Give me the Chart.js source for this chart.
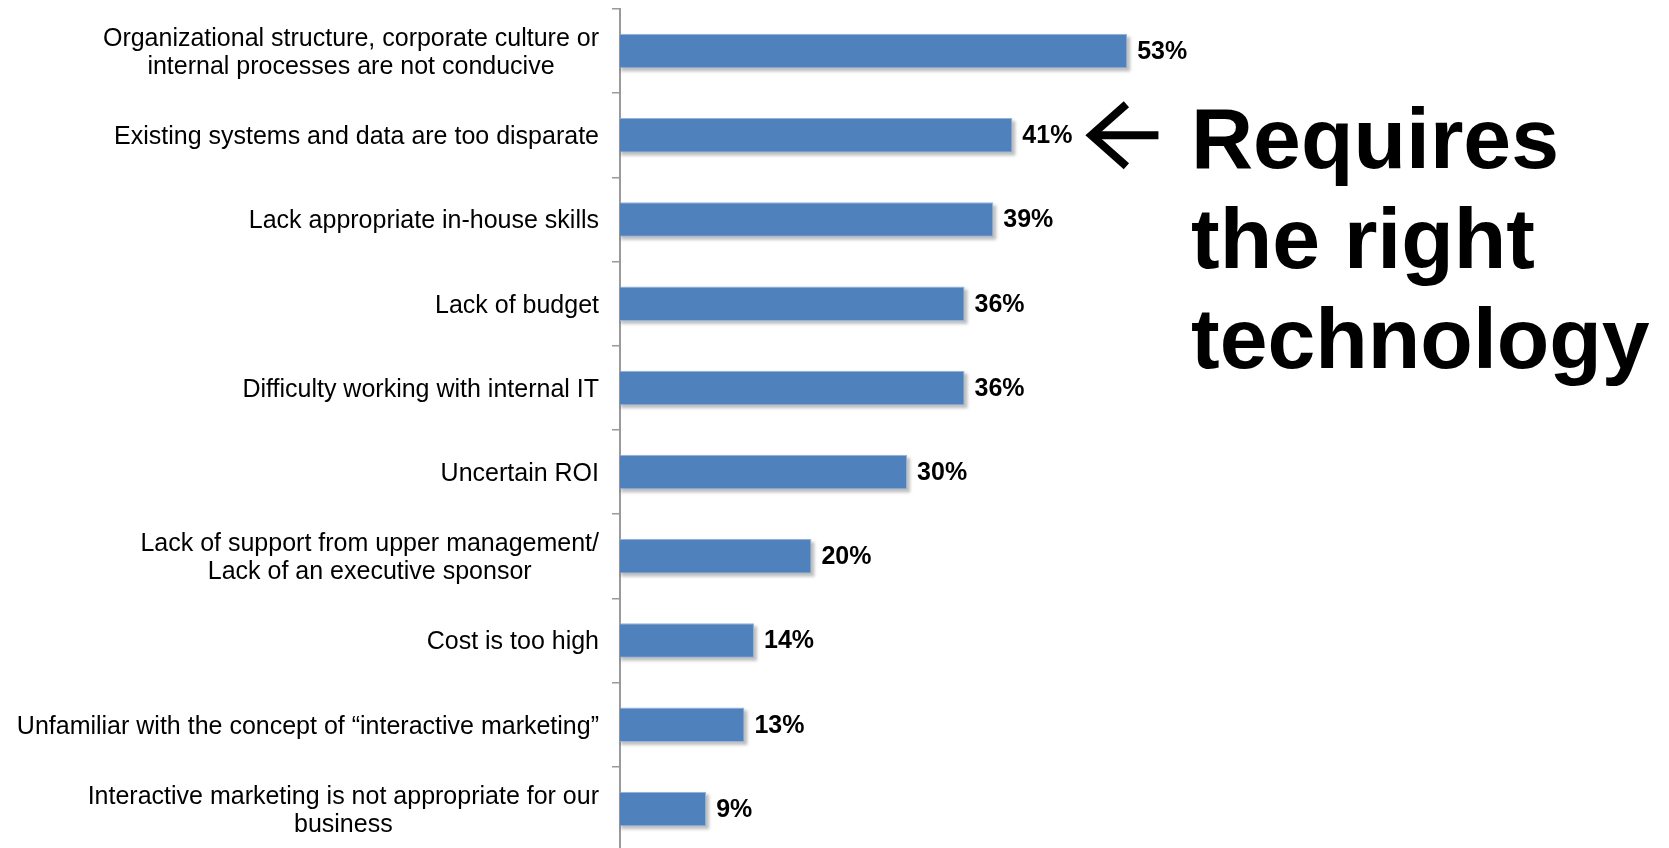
<!DOCTYPE html>
<html>
<head>
<meta charset="utf-8">
<script src="https://cdn.jsdelivr.net/npm/chart.js@4.4.1/dist/chart.umd.min.js"></script>
<style>
  html, body { margin: 0; padding: 0; background: #fff; overflow: hidden; }
  #wrap { position: relative; width: 1669px; height: 848px; overflow: hidden; }
  #chart { position: absolute; left: 0; top: 0; }
  #note {
    position: absolute; left: 1191px; top: 88px;
    font: bold 86px/100px 'Liberation Sans', Arial, sans-serif;
    color: #000; white-space: nowrap;
  }
</style>
</head>
<body>
<div id="wrap">
  <canvas id="chart" width="1669" height="860"></canvas>
  <div id="note">Requires<br>the right<br>technology</div>
</div>
<script>
const categories = [
    ['Organizational structure, corporate culture or', 'internal processes are not conducive'],
    'Existing systems and data are too disparate',
    'Lack appropriate in-house skills',
    'Lack of budget',
    'Difficulty working with internal IT',
    'Uncertain ROI',
    ['Lack of support from upper management/', 'Lack of an executive sponsor'],
    'Cost is too high',
    'Unfamiliar with the concept of \u201cinteractive marketing\u201d',
    ['Interactive marketing is not appropriate for our', 'business']
];
const values = [53, 41, 39, 36, 36, 30, 20, 14, 13, 9];
const valueLabels = values.map(v => v + '%');
const highlightIndex = 1; // bar the arrow points at

const labelFont = '25px "Liberation Sans", Arial, sans-serif';
const valueFont = 'bold 25px "Liberation Sans", Arial, sans-serif';
const labelLineHeight = 27.5;

// soft grey shadow under each bar
const barShadow = {
    id: 'barShadow',
    beforeDatasetsDraw(chart) {
        const ctx = chart.ctx;
        ctx.save();
        ctx.fillStyle = 'rgba(0, 0, 0, 0.25)';
        ctx.filter = 'blur(1.5px)';
        chart.getDatasetMeta(0).data.forEach(bar => {
            const p = bar.getProps(['x', 'y', 'base', 'height'], true);
            ctx.fillRect(p.base + 1, p.y - p.height / 2 + 3, p.x - p.base + 2, p.height);
        });
        ctx.restore();
    }
};

// category labels, right aligned to the axis, multi-line blocks centred
const categoryLabels = {
    id: 'categoryLabels',
    afterDraw(chart) {
        const ctx = chart.ctx;
        const yScale = chart.scales.y;
        const right = chart.chartArea.left - 21;
        ctx.save();
        ctx.font = labelFont;
        ctx.fillStyle = '#000';
        ctx.textAlign = 'center';
        ctx.textBaseline = 'middle';
        categories.forEach((label, i) => {
            const lines = Array.isArray(label) ? label : [label];
            const w = Math.max(...lines.map(l => ctx.measureText(l).width));
            const cx = right - w / 2;
            const y0 = yScale.getPixelForValue(i) + 2 - (lines.length - 1) * labelLineHeight / 2;
            lines.forEach((l, j) => ctx.fillText(l, cx, y0 + j * labelLineHeight));
        });
        ctx.restore();
    }
};

// percentage at the end of each bar, plus the arrow next to the highlighted one
const valueLabelPlugin = {
    id: 'valueLabelPlugin',
    afterDatasetsDraw(chart) {
        const ctx = chart.ctx;
        const bars = chart.getDatasetMeta(0).data;
        ctx.save();
        ctx.font = valueFont;
        ctx.fillStyle = '#000';
        ctx.textAlign = 'left';
        ctx.textBaseline = 'middle';
        bars.forEach((bar, i) => {
            ctx.fillText(valueLabels[i], bar.x + 10, bar.y + 1);
        });

        const hb = bars[highlightIndex];
        const tip = hb.x + 10 + ctx.measureText(valueLabels[highlightIndex]).width + 16;
        const cy = hb.y;
        ctx.strokeStyle = '#000';
        ctx.lineWidth = 8;
        ctx.lineJoin = 'miter';
        ctx.beginPath();
        ctx.moveTo(tip + 38, cy - 31);
        ctx.lineTo(tip + 3, cy);
        ctx.lineTo(tip + 38, cy + 31);
        ctx.stroke();
        ctx.beginPath();
        ctx.moveTo(tip + 5, cy);
        ctx.lineTo(tip + 70, cy);
        ctx.stroke();
        ctx.restore();
    }
};

new Chart(document.getElementById('chart'), {
    type: 'bar',
    data: {
        labels: categories,
        datasets: [{
            data: values,
            backgroundColor: '#4F81BD',
            borderColor: '#93b3dc',
            borderWidth: 1,
            barPercentage: 0.41,
            categoryPercentage: 1
        }]
    },
    options: {
        indexAxis: 'y',
        responsive: false,
        animation: false,
        layout: {
            padding: { left: 0, top: 9, right: 92, bottom: 9 }
        },
        plugins: {
            legend: { display: false },
            tooltip: { enabled: false }
        },
        scales: {
            x: {
                display: false,
                min: 0,
                max: 100
            },
            y: {
                afterFit(scale) { scale.width = 620; },
                ticks: { display: false },
                grid: {
                    drawOnChartArea: false,
                    tickLength: 8,
                    color: '#9a9a9a',
                    lineWidth: 1.5
                },
                border: { color: '#9a9a9a', width: 2 }
            }
        }
    },
    plugins: [barShadow, categoryLabels, valueLabelPlugin]
});
</script>
</body>
</html>
